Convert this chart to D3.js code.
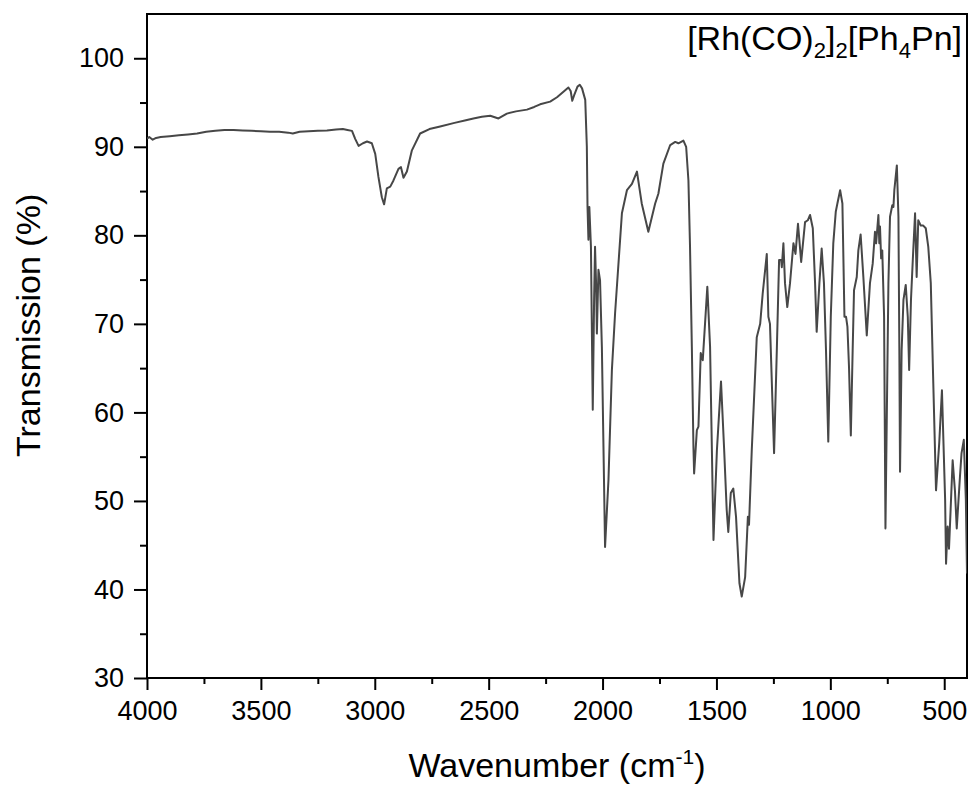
<!DOCTYPE html>
<html>
<head>
<meta charset="utf-8">
<script src="https://cdn.jsdelivr.net/npm/d3@7"></script>
<style>
  body { margin: 0; background: #fff; }
  svg { display: block; font-family: Arial, "Liberation Sans", sans-serif; }
</style>
</head>
<body>
<svg id="chart" width="971" height="788"></svg>
<script>
// IR spectrum
const wavenumber = [
  4000, 3990, 3975, 3960, 3940, 3900, 3860, 3820, 3780, 3740, 3700, 3660, 3620, 3580,
  3540, 3500, 3460, 3420, 3380, 3360, 3330, 3290, 3250, 3210, 3170, 3140, 3120, 3100,
  3086, 3071, 3052, 3034, 3013, 2998, 2984, 2969, 2959, 2947, 2932, 2918, 2896, 2885,
  2874, 2859, 2837, 2801, 2760, 2713, 2650, 2600, 2567, 2530, 2493, 2457, 2420, 2380,
  2332, 2300, 2274, 2230, 2200, 2173, 2150, 2140, 2133, 2125, 2110, 2100, 2090, 2076,
  2069, 2066, 2062, 2058, 2051, 2043, 2037, 2033, 2028, 2025, 2018, 2011, 2003, 1996,
  1989, 1974, 1959, 1945, 1915, 1893, 1871, 1849, 1828, 1799, 1769, 1755, 1733, 1703,
  1681, 1667, 1645, 1633, 1623, 1616, 1608, 1601, 1598, 1586, 1579, 1569, 1560, 1540,
  1528, 1513, 1498, 1480, 1466, 1455, 1448, 1437, 1426, 1414, 1399, 1389, 1374, 1362,
  1357, 1345, 1323, 1308, 1297, 1279, 1272, 1265, 1247, 1235, 1225, 1216, 1213, 1206,
  1199, 1189, 1177, 1162, 1153, 1142, 1128, 1111, 1099, 1089, 1077, 1067, 1060, 1048,
  1038, 1028, 1019, 1009, 998, 987, 976, 969, 957, 947, 938, 931, 925, 918,
  910, 902, 896, 884, 877, 867, 855, 840, 826, 814, 804, 799, 789, 785,
  782, 777, 772, 764, 758, 745, 738, 728, 723, 719, 708, 701, 697, 694,
  687, 679, 669, 660, 654, 646, 638, 628, 621, 614, 603, 592, 581, 570,
  559, 548, 536, 522, 510, 496, 492, 485, 479, 463, 453, 445, 431, 424,
  414, 405, 400
];
const transmission = [
  90.9, 91.1, 90.8, 91.0, 91.1, 91.2, 91.3, 91.4, 91.5, 91.7, 91.8, 91.9, 91.9, 91.85,
  91.8, 91.75, 91.7, 91.7, 91.6, 91.5, 91.7, 91.75, 91.8, 91.85, 91.95, 92.0, 91.9, 91.8,
  90.9, 90.1, 90.4, 90.6, 90.4, 89.2, 86.6, 84.3, 83.5, 85.3, 85.5, 86.2, 87.5, 87.7,
  86.5, 87.2, 89.6, 91.5, 92.0, 92.3, 92.7, 93.0, 93.2, 93.4, 93.5, 93.2, 93.75, 94.0,
  94.2, 94.5, 94.8, 95.1, 95.6, 96.2, 96.7, 96.3, 95.2, 95.8, 96.8, 97.0, 96.6, 95.3,
  90.0, 83.2, 79.5, 83.2, 78.7, 60.3, 73.0, 78.7, 74.2, 68.9, 76.1, 74.9, 67.4, 56.1,
  44.8, 52.4, 64.8, 71.2, 82.5, 85.1, 85.8, 87.2, 83.6, 80.4, 83.6, 84.7, 88.1, 90.2,
  90.55, 90.4, 90.7, 90.0, 86.2, 78.7, 67.4, 56.1, 53.1, 58.0, 58.4, 66.7, 65.9, 74.2,
  67.4, 45.6, 55.7, 63.5, 55.7, 49.0, 46.5, 50.9, 51.4, 48.2, 40.7, 39.2, 41.4, 48.2,
  47.3, 55.7, 68.5, 70.0, 73.4, 77.9, 70.8, 70.0, 55.4, 67.0, 77.2, 77.2, 76.4, 79.1,
  74.6, 71.9, 74.6, 79.1, 77.9, 81.3, 77.0, 81.5, 81.7, 82.3, 80.8, 74.6, 69.1, 74.6,
  78.5, 74.6, 67.0, 56.7, 70.8, 79.1, 82.7, 83.6, 85.1, 83.6, 70.8, 70.8, 69.7, 65.1,
  57.4, 67.0, 73.8, 75.3, 78.3, 80.1, 75.3, 68.7, 74.6, 76.8, 80.4, 79.1, 82.3, 79.1,
  81.0, 77.4, 78.3, 70.8, 46.9, 74.6, 82.1, 83.4, 83.2, 85.1, 87.9, 82.1, 67.0, 53.3,
  67.0, 72.7, 74.4, 70.8, 64.8, 72.7, 77.2, 82.5, 75.3, 81.7, 81.1, 81.1, 80.8, 78.7,
  74.6, 63.3, 51.2, 56.5, 62.5, 50.1, 42.9, 47.1, 44.6, 54.6, 51.2, 46.9, 52.7, 55.4,
  56.9, 50.1, 41.8
];
const xTicks = [4000, 3500, 3000, 2500, 2000, 1500, 1000, 500];
const yTicks = [30, 40, 50, 60, 70, 80, 90, 100];

const margin = { left: 147, top: 14, right: 4, bottom: 110 };
const W = 971, H = 788;
const iw = W - margin.left - margin.right, ih = H - margin.top - margin.bottom;

const svg = d3.select('#chart');
const g = svg.append('g').attr('transform', `translate(${margin.left},${margin.top})`);

const x = d3.scaleLinear().domain([4000, 400]).range([0, iw]);
const y = d3.scaleLinear().domain([30, 105]).range([ih, 0]);

// minor ticks
const xMinor = d3.range(3750, 400, -500);
const yMinor = d3.range(35, 105, 10);

g.append('g').attr('transform', `translate(0,${ih})`)
  .call(d3.axisBottom(x).tickValues(xTicks).tickSize(12).tickPadding(11).tickFormat(d3.format('d')));
g.append('g').attr('transform', `translate(0,${ih})`)
  .call(d3.axisBottom(x).tickValues(xMinor).tickSize(6).tickFormat(''));

g.append('g')
  .call(d3.axisLeft(y).tickValues(yTicks).tickSize(13).tickPadding(10));
g.append('g')
  .call(d3.axisLeft(y).tickValues(yMinor).tickSize(7).tickFormat(''));

svg.selectAll('.tick line').attr('stroke', '#000').attr('stroke-width', 2);
svg.selectAll('.tick text').attr('font-size', '27px').attr('fill', '#000')
  .attr('font-family', 'Arial, "Liberation Sans", sans-serif');
svg.selectAll('.domain').remove();

// frame
g.append('rect').attr('width', iw).attr('height', ih)
  .attr('fill', 'none').attr('stroke', '#000').attr('stroke-width', 2);

g.append('defs').append('clipPath').attr('id', 'clip')
  .append('rect').attr('width', iw).attr('height', ih);

const pts = wavenumber.map((w, i) => [w, transmission[i]]);
g.append('path')
  .datum(pts)
  .attr('clip-path', 'url(#clip)')
  .attr('fill', 'none')
  .attr('stroke', '#474747')
  .attr('stroke-width', 2)
  .attr('stroke-linejoin', 'round')
  .attr('d', d3.line().x(d => x(d[0])).y(d => y(d[1])));

// title, top right
const title = g.append('text')
  .attr('x', iw - 5).attr('y', 36)
  .attr('text-anchor', 'end').attr('font-size', '34px').attr('fill', '#000');
const parts = [['[Rh(CO)', 0], ['2', 1], [']', 0], ['2', 1], ['[Ph', 0], ['4', 1], ['Pn]', 0]];
let shifted = false;
parts.forEach(([t, sub]) => {
  const ts = title.append('tspan').text(t);
  if (sub) { ts.attr('font-size', '22px').attr('dy', shifted ? 0 : 8); shifted = true; }
  else if (shifted) { ts.attr('dy', -8); shifted = false; }
});

// axis labels
const xl = svg.append('text')
  .attr('x', margin.left + iw / 2).attr('y', 777)
  .attr('text-anchor', 'middle').attr('font-size', '34px').attr('fill', '#000');
xl.append('tspan').text('Wavenumber (cm');
xl.append('tspan').text('-1').attr('font-size', '21px').attr('dy', -13);
xl.append('tspan').text(')').attr('dy', 13);

svg.append('text')
  .attr('transform', 'translate(40,457) rotate(-90)')
  .attr('text-anchor', 'start').attr('font-size', '34px').attr('fill', '#000')
  .text('Transmission (%)');
</script>
</body>
</html>
